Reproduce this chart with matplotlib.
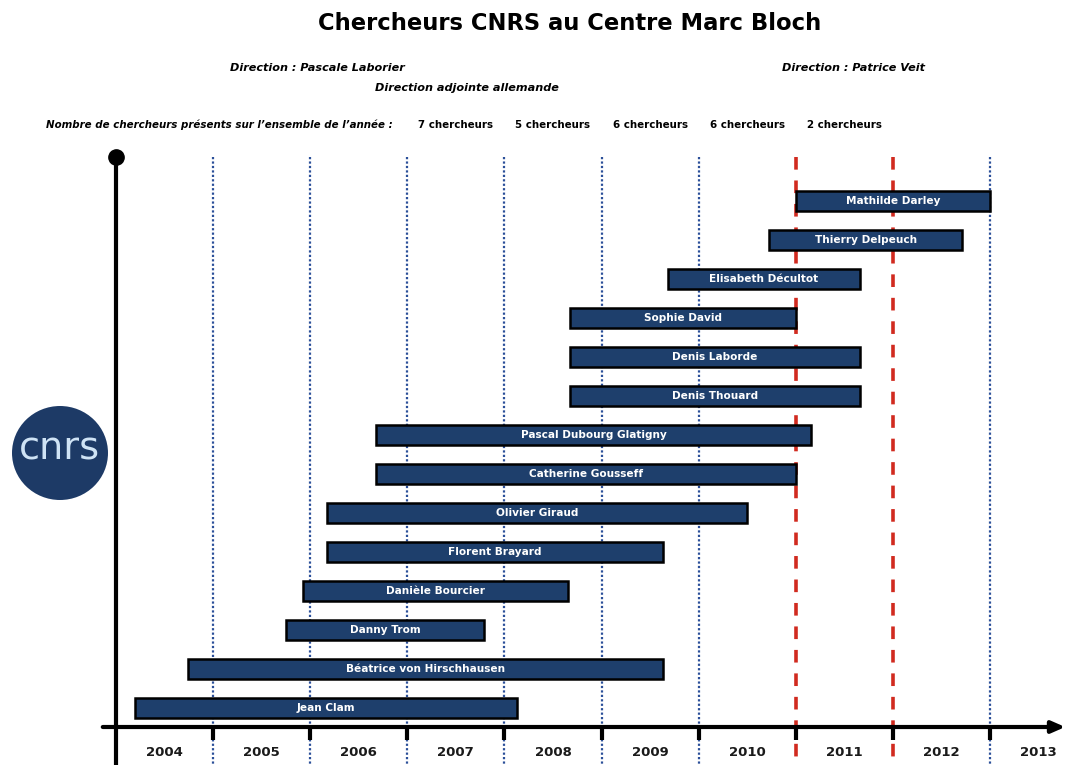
import matplotlib
matplotlib.use('Agg')
import matplotlib.pyplot as plt
from matplotlib.patches import Ellipse

# researchers, bottom to top
names = ['Jean Clam', 'Béatrice von Hirschhausen', 'Danny Trom', 'Danièle Bourcier',
         'Florent Brayard', 'Olivier Giraud', 'Catherine Gousseff', 'Pascal Dubourg Glatigny',
         'Denis Thouard', 'Denis Laborde', 'Sophie David', 'Elisabeth Décultot',
         'Thierry Delpeuch', 'Mathilde Darley']
starts = [2004.2, 2004.74, 2005.75, 2005.93, 2006.17, 2006.17, 2006.68, 2006.68,
          2008.68, 2008.68, 2008.68, 2009.68, 2010.73, 2011.0]
ends = [2008.13, 2009.63, 2007.79, 2008.65, 2009.63, 2010.5, 2011.0, 2011.16,
        2011.66, 2011.66, 2011.0, 2011.66, 2012.71, 2013.0]

years = [2004, 2005, 2006, 2007, 2008, 2009, 2010, 2011, 2012, 2013]
count_years = [2007, 2008, 2009, 2010, 2011]
counts = ['7 chercheurs', '5 chercheurs', '6 chercheurs', '6 chercheurs', '2 chercheurs']
red_lines = [2011, 2012]
blue_lines = [2005, 2006, 2007, 2008, 2009, 2010, 2013]

W, H = 1070, 765
px_year = 97.1
row_px = 39.0
x0 = 2004 - 116 / px_year
x1 = 2004 + (W - 116) / px_year
y_top = 708 / row_px
y_bot = (708 - H) / row_px

def row(py):
    return (708 - py) / row_px

def yr(px):
    return 2004 + (px - 116) / px_year

fig = plt.figure(figsize=(10.7, 7.65), dpi=100)
ax = fig.add_axes([0, 0, 1, 1])
ax.set_xlim(x0, x1)
ax.set_ylim(y_bot, y_top)
ax.axis('off')

navy = '#1e3f6c'

# vertical year lines
for y in blue_lines:
    ax.plot([y, y], [row(157), y_bot], color='#2b4f99', linestyle=(0, (1, 1)), lw=1.6, zorder=1)
for y in red_lines:
    ax.plot([y, y], [row(157), y_bot], color='#d12a1f', linestyle=(0, (3.5, 3)), lw=2.6, zorder=1)

# bars
rows = list(range(len(names)))
widths = [e - s for s, e in zip(starts, ends)]
ax.barh(rows, widths, left=starts, height=20 / row_px, color=navy,
        edgecolor='black', linewidth=1.8, zorder=3)
for r, s, e, n in zip(rows, starts, ends, names):
    ax.text((s + e) / 2, r, n, color='white', fontsize=7.6, fontweight='bold',
            ha='center', va='center', zorder=4)

# axes with arrow
ax.plot([2004, 2004], [row(157), y_bot], color='black', lw=3, zorder=5, solid_capstyle='butt')
ax.plot([2004], [row(157)], 'o', color='black', ms=11, zorder=5)
ax.annotate('', xy=(yr(1068), row(727)), xytext=(yr(100), row(727)),
            arrowprops=dict(arrowstyle='-|>,head_length=0.8,head_width=0.35',
                            color='black', lw=3), zorder=5)
for y in years[1:]:
    ax.plot([y, y], [row(727), row(740)], color='black', lw=3, zorder=5, solid_capstyle='butt')
for y in years:
    ax.text(y + 0.5, row(752), str(y), fontsize=9.5, fontweight='bold',
            ha='center', va='center', color='#1a1a1a')

# header texts
fig.text(570 / W, 1 - 24 / H, 'Chercheurs CNRS au Centre Marc Bloch', fontsize=16.3,
         fontweight='bold', ha='center', va='center')
fig.text(317 / W, 1 - 68 / H, 'Direction : Pascale Laborier', fontsize=8.1,
         fontweight='bold', style='italic', ha='center', va='center')
fig.text(467 / W, 1 - 88 / H, 'Direction adjointe allemande', fontsize=8.1,
         fontweight='bold', style='italic', ha='center', va='center')
fig.text(853 / W, 1 - 68 / H, 'Direction : Patrice Veit', fontsize=8.1,
         fontweight='bold', style='italic', ha='center', va='center')
fig.text(393 / W, 1 - 125 / H, 'Nombre de chercheurs présents sur l\u2019ensemble de l\u2019année :',
         fontsize=7.35, fontweight='bold', style='italic', ha='right', va='center')
for y, c in zip(count_years, counts):
    ax.text(y + 0.5, row(125), c, fontsize=7.4, fontweight='bold', ha='center', va='center')

# CNRS logo
ax.add_patch(Ellipse((yr(60), row(453)), 96 / px_year, 94 / row_px, angle=0,
                     facecolor='#1d3a66', edgecolor='none', zorder=2))
ax.text(yr(59), row(450), 'cnrs', color='#cfe3f5', fontsize=27.5,
        family='DejaVu Sans', ha='center', va='center', zorder=3)

fig.savefig('out.png', dpi=100)
